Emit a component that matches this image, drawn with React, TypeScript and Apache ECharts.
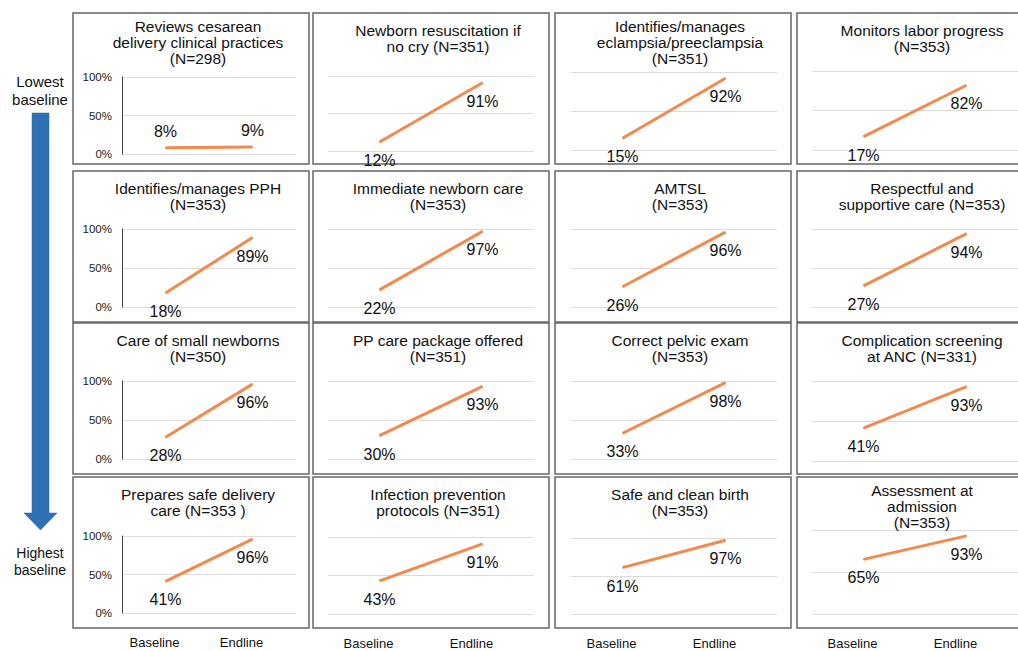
import React, { useEffect, useRef } from "react";
import * as echarts from "echarts";

const categories = ["Baseline", "Endline"];
const titles = [
  "Reviews cesarean\ndelivery clinical practices\n(N=298)",
  "Newborn resuscitation if\nno cry (N=351)",
  "Identifies/manages\neclampsia/preeclampsia\n(N=351)",
  "Monitors labor progress\n(N=353)",
  "Identifies/manages PPH\n(N=353)",
  "Immediate newborn care\n(N=353)",
  "AMTSL\n(N=353)",
  "Respectful and\nsupportive care (N=353)",
  "Care of small newborns\n(N=350)",
  "PP care package offered\n(N=351)",
  "Correct pelvic exam\n(N=353)",
  "Complication screening\nat ANC (N=331)",
  "Prepares safe delivery\ncare (N=353 )",
  "Infection prevention\nprotocols (N=351)",
  "Safe and clean birth\n(N=353)",
  "Assessment at\nadmission\n(N=353)",
];
const baselineValues = [8, 12, 15, 17, 18, 22, 26, 27, 28, 30, 33, 41, 41, 43, 61, 65];
const endlineValues = [9, 91, 92, 82, 89, 97, 96, 94, 96, 93, 98, 93, 96, 91, 97, 93];
const yTickValues = [0, 50, 100];
const sideTop = "Lowest\nbaseline";
const sideBottom = "Highest\nbaseline";

// layout
const BOX_X = [73, 313, 555, 797];
const BOX_Y = [13, 171, 323, 477];
const BOX_W = 236;
const BOX_H = 151;
const PLOT_L = [122, 328, 571, 812];
const PLOT_W = [174, 206, 206, 206];
const PLOT_T = [
  [77, 76, 72, 71],
  [229, 229, 229, 229],
  [381, 381, 381, 381],
  [536, 537, 538, 530],
];
const PLOT_H = [
  [77, 75, 78, 79],
  [78, 78, 78, 78],
  [78, 78, 78, 80],
  [77, 78, 81, 86],
];

const FONT = "'Liberation Sans', Arial, Helvetica, sans-serif";
const ORANGE = "#F28A4F";

export default function App() {
  const ref = useRef<HTMLDivElement>(null);
  useEffect(() => {
    if (!ref.current) return;
    const chart = echarts.init(ref.current, undefined, { renderer: "svg" });
    const grids: any[] = [];
    const xAxes: any[] = [];
    const yAxes: any[] = [];
    const series: any[] = [];
    const graphics: any[] = [];

    titles.forEach((title, i) => {
      const r = Math.floor(i / 4);
      const c = i % 4;
      grids.push({
        left: PLOT_L[c],
        top: PLOT_T[r][c],
        width: PLOT_W[c],
        height: PLOT_H[r][c],
      });
      xAxes.push({
        type: "category",
        gridIndex: i,
        data: categories,
        boundaryGap: true,
        axisLine: { show: false },
        axisTick: { show: false },
        axisLabel: {
          show: r === 3,
          margin: 23,
          fontSize: 13,
          color: "#111",
          fontFamily: FONT,
          padding: [0, 22, 0, 0],
        },
      });
      yAxes.push({
        type: "value",
        gridIndex: i,
        min: yTickValues[0],
        max: yTickValues[yTickValues.length - 1],
        interval: yTickValues[1] - yTickValues[0],
        axisLine: { show: c === 0, lineStyle: { color: "#444", width: 1 } },
        axisTick: { show: false },
        axisLabel: {
          show: c === 0,
          formatter: "{value}%",
          fontSize: 11.5,
          color: "#222",
          margin: 10,
          fontFamily: FONT,
        },
        splitLine: { show: true, lineStyle: { color: "#dcdcdc", width: 1 } },
      });
      const low = Math.max(baselineValues[i], endlineValues[i]) < 15;
      series.push({
        type: "line",
        xAxisIndex: i,
        yAxisIndex: i,
        data: [baselineValues[i], endlineValues[i]],
        symbol: "circle",
        symbolSize: 1,
        itemStyle: { color: ORANGE },
        lineStyle: { color: ORANGE, width: 3 },
        label: {
          show: true,
          position: low ? "top" : "bottom",
          distance: low ? 8 : 10,
          formatter: "{c}%",
          fontSize: 16,
          color: "#111",
          fontFamily: FONT,
        },
      });
      graphics.push({
        type: "rect",
        shape: { x: BOX_X[c], y: BOX_Y[r], width: BOX_W, height: BOX_H },
        style: { fill: "none", stroke: "#666", lineWidth: 1.5 },
        z: 1,
      });
      const nLines = title.split("\n").length;
      const firstCenter = BOX_Y[r] + (nLines >= 3 ? 13 : 17);
      graphics.push({
        type: "text",
        x: BOX_X[c] + BOX_W / 2 + 7,
        y: firstCenter - 8,
        style: {
          text: title,
          align: "center",
          verticalAlign: "top",
          font: `15.5px ${FONT}`,
          lineHeight: 16,
          fill: "#111",
        },
        z: 2,
      });
    });

    // side annotation
    graphics.push({
      type: "text",
      x: 40,
      y: 72,
      style: {
        text: sideTop,
        align: "center",
        verticalAlign: "top",
        font: `15px ${FONT}`,
        lineHeight: 18,
        fill: "#111",
      },
    });
    graphics.push({
      type: "polygon",
      shape: {
        points: [
          [32, 113],
          [49, 113],
          [49, 513],
          [57, 513],
          [40.5, 530],
          [24, 513],
          [32, 513],
        ],
      },
      style: { fill: "#2F70B5", stroke: "#2A65A6", lineWidth: 0.5 },
    });
    graphics.push({
      type: "text",
      x: 40,
      y: 544,
      style: {
        text: sideBottom,
        align: "center",
        verticalAlign: "top",
        font: `14px ${FONT}`,
        lineHeight: 17,
        fill: "#111",
      },
    });

    chart.setOption({
      animation: false,
      backgroundColor: "#fff",
      grid: grids,
      xAxis: xAxes,
      yAxis: yAxes,
      series,
      graphic: graphics,
    });
    return () => chart.dispose();
  }, []);
  return (
    <div
      ref={ref}
      style={{ position: "absolute", left: 0, top: 0, width: 1018, height: 650 }}
    />
  );
}
